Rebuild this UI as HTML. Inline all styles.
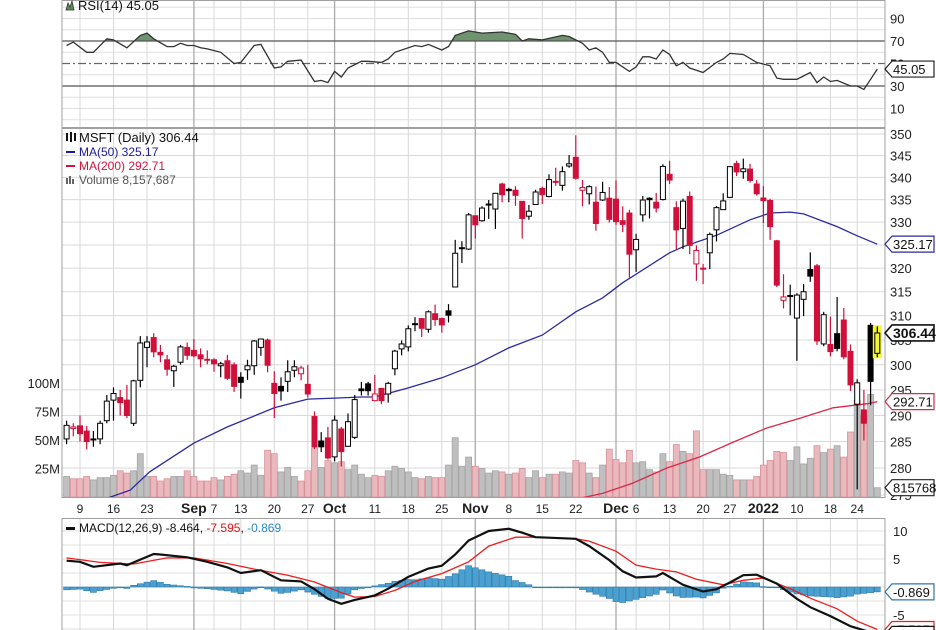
<!DOCTYPE html>
<html><head><meta charset="utf-8">
<style>
html,body{margin:0;padding:0;background:#fff;}
svg{display:block;font-family:"Liberation Sans",sans-serif;}
</style></head>
<body>
<svg id="chart" width="936" height="630" viewBox="0 0 936 630" xmlns="http://www.w3.org/2000/svg">
<defs>
<clipPath id="cpRsi"><rect x="62" y="0" width="823" height="127"/></clipPath>
<clipPath id="cpRsiFill"><rect x="62" y="0" width="823" height="41"/></clipPath>
<clipPath id="cpPrice"><rect x="62" y="128" width="823" height="369"/></clipPath>
<clipPath id="cpMacd"><rect x="62" y="518" width="823" height="112"/></clipPath>
</defs>
<g id="grid"></g>
<g id="volume" clip-path="url(#cpPrice)"></g>
<g id="ma" clip-path="url(#cpPrice)"></g>
<g id="candles" clip-path="url(#cpPrice)"></g>
<g id="rsi"></g>
<g id="macd"></g>
<g id="frames"></g>
<g id="axes"></g>

<g>
<path d="M66,10 L68,3 L70,7 L72,1 L74,10 Z" fill="#5b8a5b" stroke="#333" stroke-width="0.8"/>
<text x="78" y="10" font-size="13" fill="#111">RSI(14) 45.05</text>
</g>
<g>
<g><rect x="66" y="133" width="2" height="8" fill="#111"/><rect x="70" y="132" width="2" height="10" fill="#111"/><rect x="74" y="133" width="2" height="8" fill="#111"/></g>
<text x="79" y="142" font-size="13" fill="#111">MSFT (Daily) 306.44</text>
<rect x="66" y="151" width="9" height="2" fill="#1c1ca0"/>
<text x="79" y="156" font-size="12" fill="#1c1ca0">MA(50) 325.17</text>
<rect x="66" y="165" width="9" height="2" fill="#d4143c"/>
<text x="79" y="170" font-size="12" fill="#d4143c">MA(200) 292.71</text>
<g><rect x="66" y="178" width="2" height="6" fill="#666"/><rect x="69" y="176" width="2" height="8" fill="#666"/><rect x="72" y="179" width="2" height="5" fill="#666"/></g>
<text x="79" y="184" font-size="12" fill="#555">Volume 8,157,687</text>
</g>
<g>
<rect x="66" y="527" width="9" height="3" fill="#111"/>
<text x="79" y="532" font-size="12"><tspan fill="#111">MACD(12,26,9) -8.464</tspan><tspan fill="#111">, </tspan><tspan fill="#e01010">-7.595</tspan><tspan fill="#111">, </tspan><tspan fill="#2a8ac0">-0.869</tspan></text>
</g>
</svg>
<script>
// ---------- DATA ----------
const dates = ["Aug5","Aug6","Aug9","Aug10","Aug11","Aug12","Aug13","Aug16","Aug17","Aug18","Aug19","Aug20","Aug23","Aug24","Aug25","Aug26","Aug27","Aug30","Aug31",
"Sep1","Sep2","Sep3","Sep7","Sep8","Sep9","Sep10","Sep13","Sep14","Sep15","Sep16","Sep17","Sep20","Sep21","Sep22","Sep23","Sep24","Sep27","Sep28","Sep29","Sep30",
"Oct1","Oct4","Oct5","Oct6","Oct7","Oct8","Oct11","Oct12","Oct13","Oct14","Oct15","Oct18","Oct19","Oct20","Oct21","Oct22","Oct25","Oct26","Oct27","Oct28","Oct29",
"Nov1","Nov2","Nov3","Nov4","Nov5","Nov8","Nov9","Nov10","Nov11","Nov12","Nov15","Nov16","Nov17","Nov18","Nov19","Nov22","Nov23","Nov24","Nov26","Nov29","Nov30",
"Dec1","Dec2","Dec3","Dec6","Dec7","Dec8","Dec9","Dec10","Dec13","Dec14","Dec15","Dec16","Dec17","Dec20","Dec21","Dec22","Dec23","Dec27","Dec28","Dec29","Dec30","Dec31",
"Jan3","Jan4","Jan5","Jan6","Jan7","Jan10","Jan11","Jan12","Jan13","Jan14","Jan18","Jan19","Jan20","Jan21","Jan24","Jan25","Jan26","Jan27"];
const opens = [285.5,287.5,288,287,285.5,285.5,289,293,293.5,293,288.5,296.9,303.5,305.5,302.5,301,298.8,300.5,303.5,
302.9,302,301.1,301,299.8,300.8,300,297.5,299,299.8,303.5,305,296.3,295.7,296.7,298.9,298.2,296.1,289.8,285.1,285.7,
282.1,287.4,284.1,285.8,295.2,296.2,292.9,295.3,294.2,299.2,303.2,303.6,308.35,309.4,307.2,310.4,309.4,311,316,324.3,324.1,
331.4,330.3,333.9,332.9,338.5,337.3,337.1,334.6,331.3,333.9,337.5,335.7,339,338.2,342.6,344.6,337.1,336.3,334.4,334.9,335.3,
335.1,330.3,332,323.95,331.6,335.3,334.4,335,340.7,333.2,328.6,335.7,320.9,320,323.3,328.3,332.75,335.5,343.15,341.3,341.9,338.5,
335.35,334.8,325.9,313.2,314.2,309.5,313.4,319.7,320.5,304.2,304.1,306.3,309.1,302.7,292.2,291.1,308,302.3];
const highs = [289,288.5,290,288,287,289,294,295.5,295,296,297,305.8,305.8,306.4,304,302,300,304,304.5,
305.2,303.3,302.9,301.3,300.6,302,300.5,298.5,301,305,305.3,305.3,298.7,297.5,300.9,300.9,299.8,300,290.8,286.8,287.8,
290,287.8,290.4,294,296.6,296.6,297.97,295.4,296.6,303,304.9,308,309.7,309.5,311.1,312.3,309.6,312.4,326.1,325.8,332,
331.5,333.5,334.9,336.5,338.8,337.65,338,334.6,333.8,337.2,337.9,340.7,342.2,342.5,345.1,349.7,339.4,338.2,337.9,339,337.8,
339.3,333.5,332.7,327.45,335.8,335.5,336.5,343,343.8,334.6,335.2,336.8,324.9,320.9,327.7,333.6,336.4,342.5,343.8,344.3,343.1,339.4,
338,335.2,326.1,318.7,316.5,314.7,316.6,323.4,320.9,310.8,309.8,313.9,311.6,304.1,297.1,295,308.5,307.8];
const lows = [284.5,286,285,283.5,284,284.5,288.5,289,290,289.5,288,295.5,299.5,301.5,300.5,297.8,295.6,300,301,
301.5,299.5,300.1,298.6,297.5,297,294.6,293.3,297,298,301.8,298.5,289.5,292.9,294.6,297.5,296.9,293.5,283.6,283,281.6,
281.3,280.3,284,285.5,293.9,293.9,292.75,292.2,292.5,297.9,301.9,302.7,306.8,305.6,306.5,307.9,306.5,308.6,316,321.1,323.9,
326.4,330.1,330.7,328.5,334.4,334.4,333.6,326.4,330.5,333.8,334,335.5,338.1,337,342.2,339.5,333.5,333.9,328.1,334.7,329.9,
329.4,327.8,318,319.2,330.1,330.8,332.1,334.8,338.5,324.1,324.1,323,317.3,316.6,319.8,325.75,332.7,335.4,340.3,339.7,338.8,335.9,
329.8,326.1,316,311.5,310.1,300.8,309.9,317.1,304,303.75,301.7,302.7,301.1,294.8,276.05,285.2,292,301.5];
const closes = [288.1,287.8,286.5,285,285.3,288.5,292.8,294.3,292.5,290,296.8,304.4,304.6,302.6,302,299.1,299.7,303.6,301.9,
301.8,301.2,301.1,300.2,300.2,297.3,295.7,296.5,299.8,304.8,305.2,299.9,294.3,294.8,298.6,299.6,299.35,294.2,284,284,281.9,
289.1,283.1,288.8,293.1,294.85,294.85,294.2,292.9,296.3,302.75,304.2,307.3,308.2,307.4,310.8,309.2,308.1,310.1,323.2,324.4,331.6,
329.4,333.1,334,336.4,336.1,337,335.95,330.8,332.4,336.7,336.1,339.5,339.1,341.3,343.1,339.8,337.7,337.9,329.7,336.6,330.6,
330.1,329.5,323,326.2,334.9,334.97,333.1,342.5,339.4,328.3,334.65,324.9,323.8,319.9,327.3,333.2,334.7,342.45,341.25,341.95,339.3,336.3,
334.75,329,316.4,313.9,314,314.3,315,318.3,304.8,310.2,302.65,303.3,301.6,296,296.4,288.5,296.7,306.44];
const volumes = [18,16,16,18,15,17,17,19,23,21,23,38,18,18,14,16,18,18,23,
18,14,14,17,15,18,20,23,21,28,19,41,38,22,26,18,14,23,43,26,32,
30,31,24,28,20,17,19,18,23,27,25,22,17,16,18,17,17,28,52,27,35,
27,25,21,23,22,20,21,25,17,23,17,20,20,22,21,32,30,21,17,28,42,
33,30,41,30,31,24,22,38,31,46,40,38,58,24,24,24,20,19,15,15,15,18,
28,32,40,39,32,44,29,34,45,39,42,45,35,57,85,72,90,8.16];
// RSI(14) read points: trading-day index & value
const rsiDay = [0,1,3,4,6,7,9,11,12,13,15,16,17,18,19,20,21,23,25,26,28,29,31,32,33,35,37,38,39,40,41,42,44,45,47,48,49,52,53,54,56,57,58,59,60,62,65,67,68,69,71,74,75,77,78,79,80,81,82,84,85,86,87,88,89,90,91,92,93,95,97,98,99,101,103,105,106,107,109,111,112,113,114,115,117,118,119,120,121];
const rsiVal = [66,69,60,60,72,71,64,75,77,72,65,65,68,66,66,64,63,60,50,51,66,67,46,47,52,53,34,35,33,43,38,46,52,52,51,54,60,66,65,67,62,65,75,77,79,77,78,76,70,72,71,75,74,68,62,64,60,51,51,43,47,56,56,54,62,58,48,51,46,42,51,54,59,58,51,48,37,36,36,42,33,38,34,35,30,30,27,36,45.05];
// MACD line and signal line
const macdDay = [0,2,4,8,9,13,14,18,21,24,26,29,32,35,37,39,41,43,46,48,51,54,56,58,60,63,66,68,70,72,76,78,81,83,85,88,89,92,95,97,99,101,103,106,109,111,114,117,121];
const macdVal = [4.7,4.5,3.6,4.2,3.9,5.9,5.8,5.3,4.5,3.5,2.5,3.0,1.2,1.0,-0.4,-2.1,-3.0,-2.3,-1.5,-0.3,1.8,3.3,3.8,5.8,8.3,10,10.4,9.7,8.9,8.8,8.6,7.3,4.8,2.8,1.7,1.9,2.5,0.4,-0.8,-0.4,0.8,2.1,2.2,0.6,-2.1,-3.6,-5.2,-7.0,-8.464];
const sigDay = [0,5,10,15,19,24,28,33,37,41,43,46,49,52,56,60,63,67,70,76,78,82,85,88,91,94,98,101,104,108,111,115,118,121];
const sigVal = [5.2,4.4,4.1,5.2,5.2,4.2,3.2,2.1,0.9,-1.0,-1.8,-1.7,-0.6,1.0,2.4,4.5,7.3,8.9,8.9,8.6,8.2,6.4,3.9,3.2,2.7,1.4,0.4,1.2,1.6,-0.3,-2.0,-3.9,-6.1,-7.595];
// Moving averages
const ma50Day = [6,9.5,12.4,19,24,31,36,40,44,46,51,56,61,66,71,76,80,83,90,92,97,102,105,108,110,115,118,121];
const ma50Val = [274.4,275.9,279.3,284.7,287.8,291.5,293.2,293.4,293.6,293.6,295.4,297.4,300,303.4,306,310.8,313.7,316.9,323.3,324.6,327.1,330.5,332,332.2,331.8,329,327,325.17];
const ma200Day = [77,80,84.5,89.6,94.5,99.5,104.5,109.5,114.4,119.5,121];
const ma200Val = [274.5,275.3,277.2,280,282.1,284.9,287.6,289.5,291.5,292.3,292.71];
// Axis ticks
const priceTicks = [350,345,340,335,330,325,320,315,310,305,300,295,290,285,280,275];
const volTicks = [25,50,75,100];
const volTickLabels = ["25M","50M","75M","100M"];
const rsiTicks = [90,70,50,30,10];
const macdTicks = [10,5,-5];
const xLabelDays = [2,7,12,19,22,26,31,36,40,46,51,56,61,66,71,76,82,85,90,95,99,104,109,114,118];
const xLabels = ["9","16","23","Sep","7","13","20","27","Oct","11","18","25","Nov","8","15","22","Dec","6","13","20","27","2022","10","18","24"];
const xLabelMajor = [0,0,0,1,0,0,0,0,1,0,0,0,1,0,0,0,1,0,0,0,0,1,0,0,0];

// ---------- AXIS FUNCTIONS ----------
const X0 = 62, X1 = 885;
const xOf = k => 80 + (k - 2) * 6.7;
const yP = p => 134 + (Math.log(350) - Math.log(p)) * 1497;
const yV = v => 497 - v * 1.14;
const yR = v => 63.5 - (v - 50) * 1.125;
const yM = v => 587 - v * 5.6;
const NS = "http://www.w3.org/2000/svg";
function mk(tag, attrs, parent) {
  const e = document.createElementNS(NS, tag);
  for (const a in attrs) e.setAttribute(a, attrs[a]);
  parent.appendChild(e);
  return e;
}
function interp(days, vals, k) {
  if (k <= days[0]) return vals[0];
  for (let i = 1; i < days.length; i++) {
    if (k <= days[i]) { const t = (k - days[i-1]) / (days[i] - days[i-1]); return vals[i-1] + t * (vals[i] - vals[i-1]); }
  }
  return vals[vals.length - 1];
}
const gGrid = document.getElementById('grid');
const gVol = document.getElementById('volume');
const gMa = document.getElementById('ma');
const gC = document.getElementById('candles');
const gR = document.getElementById('rsi');
const gM = document.getElementById('macd');
const gF = document.getElementById('frames');
const gA = document.getElementById('axes');

// ---------- GRID ----------
priceTicks.forEach(p => {
  const l = mk('line', {x1: X0, x2: X1, y1: yP(p), y2: yP(p), stroke: '#dadada', 'stroke-width': 1}, gGrid);
  
  
});
[100,90,80,60,40,20,10,0].forEach(v => {
  const l = mk('line', {x1: X0, x2: X1, y1: yR(v), y2: yR(v), stroke: '#e0e0e0', 'stroke-width': 1}, gGrid);
  
  
});
[10,7.5,5,2.5,0,-2.5,-5,-7.5].forEach(v => {
  const l = mk('line', {x1: X0, x2: X1, y1: yM(v), y2: yM(v), stroke: '#e0e0e0', 'stroke-width': 1}, gGrid);
  
  
});
xLabelDays.forEach((k, i) => {
  const x = xOf(k);
  const col = xLabelMajor[i] ? '#aaaaaa' : '#d8d8d8';
  [[0,127],[128,497],[518,630]].forEach(r => {
    const l = mk('line', {x1: x, x2: x, y1: r[0], y2: r[1], stroke: col, 'stroke-width': xLabelMajor[i] ? 1.3 : 1}, gGrid);
    
    
  });
});

// ---------- VOLUME ----------
volumes.forEach((v, k) => {
  const down = k > 0 && closes[k] < closes[k-1];
  const r = mk('rect', {x: xOf(k) - 3, y: yV(v), width: 6, height: 497 - yV(v),
    fill: down ? '#eab9be' : '#bfbfbf', stroke: down ? '#d9919a' : '#a6a6a6', 'stroke-width': 0.8}, gVol);
  
  
});

// ---------- MOVING AVERAGES ----------
function maPath(days, vals) {
  return days.map((d, i) => (i ? 'L' : 'M') + xOf(d).toFixed(1) + ',' + yP(vals[i]).toFixed(1)).join(' ');
}
const ma50 = mk('path', {d: maPath(ma50Day, ma50Val), fill: 'none', stroke: '#2a2aa0', 'stroke-width': 1.3}, gMa);


const ma200 = mk('path', {d: maPath(ma200Day, ma200Val), fill: 'none', stroke: '#dc2848', 'stroke-width': 1.3}, gMa);



// ---------- CANDLES ----------
const RED = '#d0103a';
closes.forEach((c, k) => {
  const o = opens[k], h = highs[k], lo = lows[k];
  const x = xOf(k);
  const last = k === closes.length - 1;
  const down = k > 0 && c < closes[k-1];
  const hollow = c >= o;
  const col = down ? RED : '#000';
  const g = mk('g', {}, gC);
  
  
  if (last) {
    const hl = mk('rect', {x: x - 4.5, y: yP(h) - 1, width: 9, height: yP(lo) - yP(h) + 2, fill: '#f4f43a'}, g);
    
    
  }
  mk('line', {x1: x, x2: x, y1: yP(h), y2: yP(lo), stroke: col, 'stroke-width': 1.2}, g);
  const top = yP(Math.max(o, c)), bot = yP(Math.min(o, c));
  mk('rect', {x: x - 2.5, y: top, width: 5, height: Math.max(1, bot - top),
    fill: last ? '#f4f43a' : (hollow ? '#fff' : col), stroke: col, 'stroke-width': 1}, g);
});

// ---------- RSI ----------
const rsiPts = rsiDay.map((d, i) => xOf(d).toFixed(1) + ',' + yR(rsiVal[i]).toFixed(1));
const rsiFill = mk('polygon', {points: xOf(rsiDay[0]) + ',' + yR(70) + ' ' + rsiPts.join(' ') + ' ' + xOf(rsiDay[rsiDay.length-1]) + ',' + yR(70),
  fill: '#6f936f', 'clip-path': 'url(#cpRsiFill)'}, gR);


[[70,'none'],[30,'none'],[50,'8 3 2 3']].forEach(a => {
  const l = mk('line', {x1: X0, x2: X1, y1: yR(a[0]), y2: yR(a[0]), stroke: a[0] === 50 ? '#666' : '#555', 'stroke-width': 1.2, 'stroke-dasharray': a[1]}, gR);
  
  
});
const rsiLine = mk('polyline', {points: rsiPts.join(' '), fill: 'none', stroke: '#333', 'stroke-width': 1.3, 'clip-path': 'url(#cpRsi)'}, gR);



// ---------- MACD ----------
const gMc = mk('g', {'clip-path': 'url(#cpMacd)'}, gM);
for (let k = 0; k < closes.length; k++) {
  const h = interp(macdDay, macdVal, k) - interp(sigDay, sigVal, k);
  const y0 = yM(0), y1 = yM(h);
  const b = mk('rect', {x: xOf(k) - 3, y: Math.min(y0, y1), width: 6, height: Math.max(0.8, Math.abs(y1 - y0)),
    fill: '#4aa0d0', stroke: '#2b78a8', 'stroke-width': 0.6}, gMc);
  
  
}
const sigLine = mk('polyline', {points: sigDay.map((d, i) => xOf(d).toFixed(1) + ',' + yM(sigVal[i]).toFixed(1)).join(' '),
  fill: 'none', stroke: '#ee1c1c', 'stroke-width': 1.3}, gMc);


const macdLine = mk('polyline', {points: macdDay.map((d, i) => xOf(d).toFixed(1) + ',' + yM(macdVal[i]).toFixed(1)).join(' '),
  fill: 'none', stroke: '#111', 'stroke-width': 2.2}, gMc);



// ---------- FRAMES ----------
[[0,127],[128,497],[518,630]].forEach(r => {
  const f = mk('rect', {x: X0, y: r[0] + 0.5, width: X1 - X0, height: r[1] - r[0], fill: 'none', stroke: '#a0a0a0', 'stroke-width': 1}, gF);
  
  
});

// ---------- AXES ----------
priceTicks.forEach(p => {
  const t = mk('text', {x: 890, y: yP(p) + 5, 'font-size': 13, fill: '#222'}, gA);
  t.textContent = p;
  
  
});
volTicks.forEach((v, i) => {
  const t = mk('text', {x: 60, y: yV(v) + 5, 'font-size': 13, fill: '#222', 'text-anchor': 'end'}, gA);
  t.textContent = volTickLabels[i];
  
  
});
rsiTicks.forEach(v => {
  const t = mk('text', {x: 890, y: yR(v) + 5, 'font-size': 13, fill: '#222'}, gA);
  t.textContent = v;
  
  
});
macdTicks.forEach(v => {
  const t = mk('text', {x: 893, y: yM(v) + 5, 'font-size': 13, fill: '#222'}, gA);
  t.textContent = v;
  
  
});
xLabelDays.forEach((k, i) => {
  const t = mk('text', {x: xOf(k), y: 513, 'font-size': xLabelMajor[i] ? 14 : 12, 'font-weight': xLabelMajor[i] ? 'bold' : 'normal',
    fill: '#222', 'text-anchor': 'middle'}, gA);
  t.textContent = xLabels[i];
  
  
});
function tag(y, text, stroke, bold, name) {
  const g = mk('g', {}, gA);
  
  
  mk('path', {d: `M885,${y} L892,${y-8} L934,${y-8} L934,${y+8} L892,${y+8} Z`, fill: '#fff', stroke: stroke, 'stroke-width': bold ? 1.6 : 1.2}, g);
  const t = mk('text', {x: 893, y: y + 5, 'font-size': bold ? 14 : 13, 'font-weight': bold ? 'bold' : 'normal', fill: '#111'}, g);
  t.textContent = text;
}
tag(yR(45.05), '45.05', '#222', false, 'rsi-value-tag');
tag(yP(325.17), '325.17', '#2a2aa0', false, 'ma50-value-tag');
tag(yP(306.44), '306.44', '#111', true, 'price-value-tag');
tag(yP(292.71), '292.71', '#dc2848', false, 'ma200-value-tag');
tag(yV(8.16), '815768', '#222', false, 'volume-value-tag');
tag(yM(-0.869), '-0.869', '#2b78a8', false, 'histogram-value-tag');
tag(yM(-7.595), '-7.595', '#ee1c1c', false, 'signal-value-tag');
tag(yM(-8.464), '-8.464', '#111', false, 'macd-value-tag');
</script>
</body></html>
